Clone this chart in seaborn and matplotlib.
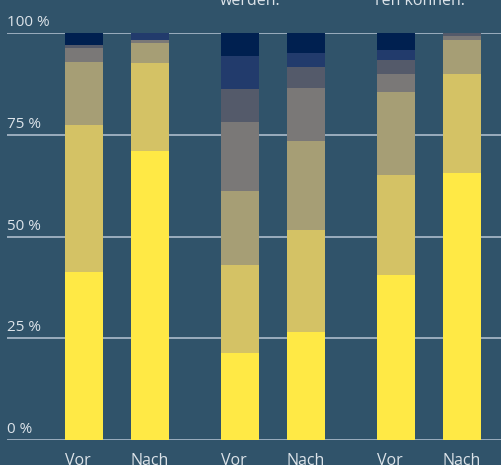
import matplotlib
matplotlib.use("Agg")
import matplotlib.pyplot as plt
import matplotlib.transforms as mtransforms
import seaborn as sns
import pandas as pd

# bar labels, three groups of two bars (before / after)
bar_labels = ["Vor", "Nach", "Vor", "Nach", "Vor", "Nach"]
group_titles = ["", "werden.", "ren können."]

# share per answer level in percent, bottom segment first
seg1 = [41.3, 71.0, 21.4, 26.5, 40.5, 65.6]
seg2 = [36.1, 21.6, 21.6, 25.1, 24.6, 24.3]
seg3 = [15.5, 4.9, 18.2, 21.9, 20.4, 8.4]
seg4 = [3.4, 0.8, 16.9, 13.0, 4.4, 1.0]
seg5 = [0.7, 0.0, 8.1, 5.1, 3.5, 0.7]
seg6 = [0.0, 1.7, 8.1, 3.5, 2.4, 0.0]
seg7 = [3.0, 0.0, 5.7, 4.9, 4.2, 0.0]

segments = [seg1, seg2, seg3, seg4, seg5, seg6, seg7]
colors = ["#ffe945", "#d4c265", "#a69e75", "#7a7877", "#545a6a", "#223b6c", "#002050"]

bg = "#30536a"
grid_col = "#a3b4c4"
text_col = "#dce3e9"

# x positions: pairs of bars, wider gap between groups
group_step = 2.36
bar_w = 38 / 66
pos = []
for g in range(3):
    center = 0.5 + g * group_step
    pos += [center - 0.5, center + 0.5]

df = pd.DataFrame({"pos": pos, "label": bar_labels})
running = [0.0] * len(pos)
cum_cols = []
for i, seg in enumerate(segments):
    running = [r + s for r, s in zip(running, seg)]
    df[f"cum{i}"] = running
    cum_cols.append(f"cum{i}")

fig = plt.figure(figsize=(5.02, 4.65), dpi=100, facecolor=bg)
ax = fig.add_axes([7 / 502, 25 / 465, 495 / 502, 407 / 465])
ax.set_facecolor(bg)

# gridlines under the bars
for v in [0, 25, 50, 75, 100]:
    ax.axhline(v, color=grid_col, lw=1.3, zorder=0)

# overlay cumulative bars, top layer first
for col, c in reversed(list(zip(cum_cols, colors))):
    sns.barplot(data=df, x="pos", y=col, native_scale=True, color=c,
                saturation=1, width=bar_w, errorbar=None, ax=ax,
                linewidth=0, zorder=2)

ax.set_xlim(-77 / 66, 418 / 66)
ax.set_ylim(0, 100)
for s in ax.spines.values():
    s.set_visible(False)
ax.set_xlabel("")
ax.set_ylabel("")
ax.set_yticks([])
ax.set_xticks([])

# bar labels, left aligned with the bar, cut off at the bottom
for p, lab in zip(pos, bar_labels):
    ax.annotate(lab, xy=(p - bar_w / 2, 1 - 453 / 465), xycoords=("data", "figure fraction"),
                ha="left", va="top", fontsize=11.5, color=text_col, family="Open Sans",
                annotation_clip=False)

# percent labels sitting on the gridlines
trans = mtransforms.blended_transform_factory(ax.transAxes, ax.transData)
for v in [0, 25, 50, 75, 100]:
    ax.annotate(f"{v} %", xy=(0, v), xycoords=trans, xytext=(0, 5),
                textcoords="offset points", ha="left", va="baseline",
                fontsize=11, color=text_col, family="Open Sans")

# last line of the group titles, cut off at the top
title_x = [0, 220, 375]
for tx, title in zip(title_x, group_titles):
    if title:
        fig.text(tx / 502, 1 - 5 / 465, title, ha="left", va="baseline",
                 fontsize=11.5, color=text_col, family="Open Sans")

fig.savefig("out.png", dpi=100, facecolor=bg)
